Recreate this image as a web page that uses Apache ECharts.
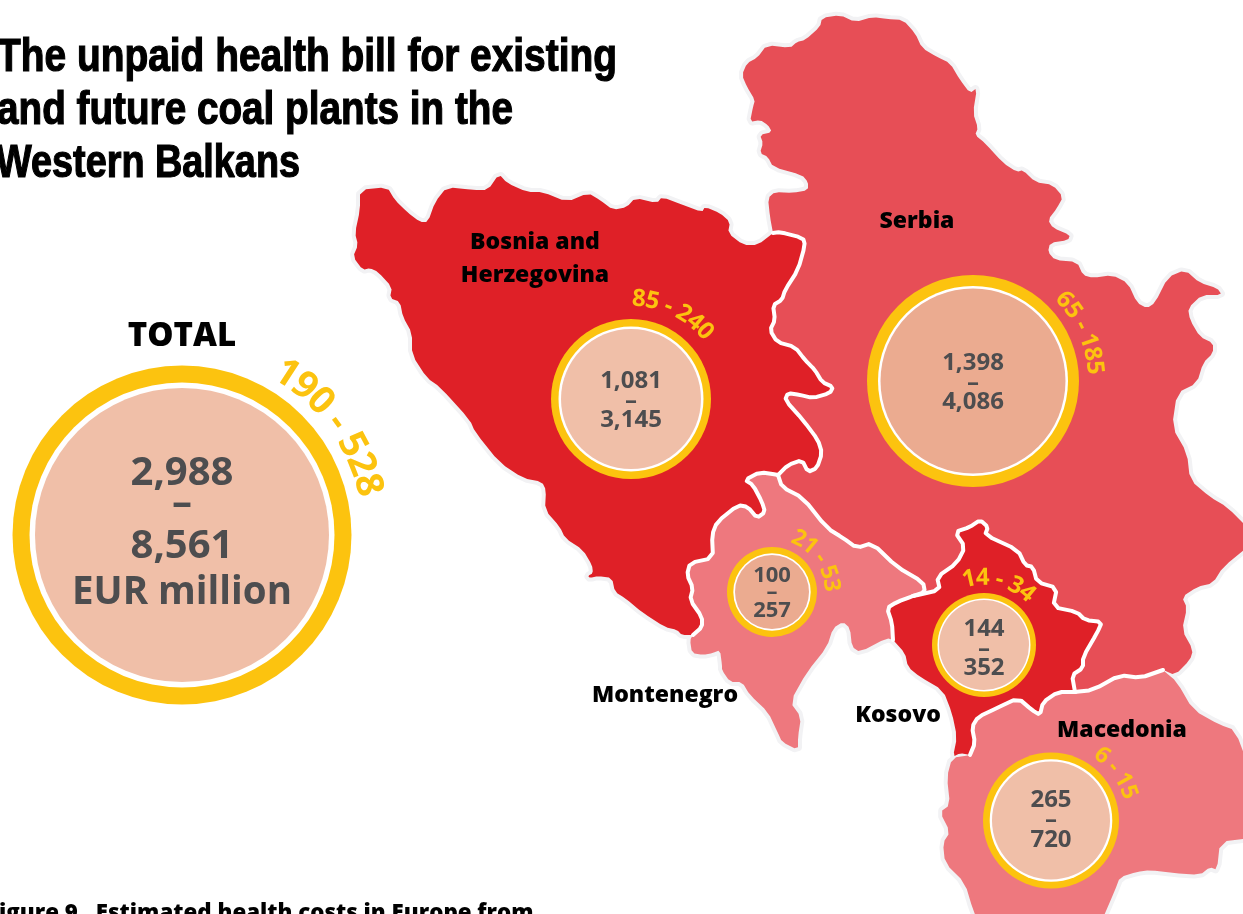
<!DOCTYPE html>
<html>
<head>
<meta charset="utf-8">
<style>
  html, body { margin: 0; padding: 0; background: #fff; overflow: hidden; }
  #chart { width: 1243px; height: 914px; }
</style>
<script src="https://cdn.jsdelivr.net/npm/echarts@6/dist/echarts.min.js"></script>
</head>
<body>
<div id="chart"></div>
<script>
// values
const countries = ['TOTAL', 'Bosnia and Herzegovina', 'Serbia', 'Montenegro', 'Kosovo', 'Macedonia']
const lowCost = [2988, 1081, 1398, 100, 144, 265]
const highCost = [8561, 3145, 4086, 257, 352, 720]
const lowRing = [190, 85, 65, 21, 14, 6]
const highRing = [528, 240, 185, 53, 34, 15]
const titleLines = ['The unpaid health bill for existing', 'and future coal plants in the', 'Western Balkans']

// rounds the corners of a hand traced border, ends stay where they are
function soften (pts) {
  const out = [pts[0]]
  for (let i = 0; i < pts.length - 1; i++) {
    const a = pts[i]
    const b = pts[i + 1]
    out.push([a[0] + (b[0] - a[0]) * 0.22, a[1] + (b[1] - a[1]) * 0.22])
    out.push([a[0] + (b[0] - a[0]) * 0.78, a[1] + (b[1] - a[1]) * 0.78])
  }
  out.push(pts[pts.length - 1])
  return out
}

// outlines, in map units (the map is registered 1:1 with the page)
const bosniaOuter = soften([[773,233],[758,245],[743,245],[728,233],[730,222],[720,213],[705,207],[702,212],[683,205],[662,197],[657,203],[635,198],[627,207],[613,210],[600,200],[588,193],[567,202],[543,192],[527,192],[507,183],[499,174],[488,190],[473,190],[447,187],[435,202],[428,222],[420,222],[407,212],[395,200],[387,187],[360,190],[360,210],[355,233],[358,245],[353,257],[363,270],[370,268],[378,272],[392,287],[390,298],[400,302],[403,317],[412,333],[412,355],[427,378],[440,387],[470,420],[475,432],[500,463],[523,478],[542,482],[546,490],[545,510],[560,527],[565,538],[583,550],[592,565],[593,573],[588,576],[590,578],[598,576],[612,578],[615,592],[625,598],[643,613],[665,627],[677,630],[682,635],[693,635]])
const bosniaSerbia = soften([[773,233],[780,232],[803,238],[805,245],[798,270],[785,290],[782,300],[773,305],[775,320],[770,330],[777,342],[795,347],[805,360],[815,370],[822,382],[833,387],[830,393],[813,398],[800,395],[788,393],[785,400],[803,420],[818,440],[822,453],[817,468],[808,472],[802,460],[788,465],[778,475]])
const bosniaMontenegro = soften([[778,475],[760,472],[745,480],[753,485],[762,502],[765,512],[757,518],[748,507],[738,505],[717,522],[712,535],[713,558],[690,563],[687,575],[693,588],[690,600],[702,617],[702,627],[693,635]])
const montenegroSerbia = soften([[778,475],[782,487],[803,498],[827,528],[843,538],[857,548],[872,543],[897,567],[923,582],[925,592],[913,596]])
const kosovoMontenegro = soften([[913,596],[897,602],[887,608],[892,623],[893,640]])
const kosovoSerbia = soften([[913,596],[940,590],[937,577],[957,563],[965,547],[955,532],[970,527],[980,520],[988,527],[985,535],[1018,550],[1025,565],[1033,567],[1037,582],[1057,588],[1053,607],[1077,612],[1085,620],[1102,622],[1097,633],[1083,657],[1083,668],[1072,675],[1075,692]])
const kosovoMacedonia = soften([[1075,692],[1058,692],[1043,702],[1040,715],[1032,710],[1018,698],[997,708],[978,717],[972,727],[975,743],[970,755]])
const serbiaMacedonia = soften([[1075,692],[1093,690],[1120,675],[1140,678],[1163,670]])
const kosovoCoast = soften([[970,755],[960,753],[953,757],[957,737],[952,713],[943,690],[920,677],[908,667],[905,653],[893,640]])
const montenegroCoast = soften([[893,640],[887,638],[860,652],[852,647],[850,628],[843,622],[833,628],[827,647],[807,672],[790,702],[801,717],[798,737],[798,750],[782,742],[778,733],[768,712],[750,695],[742,682],[730,682],[722,670],[722,665],[720,650],[713,653],[703,655],[692,653],[690,640],[693,635]])
const serbiaOuter = soften([[773,233],[770,217],[768,198],[775,192],[793,193],[808,190],[808,182],[802,175],[773,167],[768,157],[760,153],[763,143],[760,135],[772,132],[768,125],[760,120],[750,122],[753,107],[755,100],[747,87],[742,75],[747,63],[757,58],[767,45],[790,48],[797,42],[805,40],[820,27],[822,18],[840,15],[855,22],[873,17],[887,19],[903,20],[915,33],[922,48],[937,57],[950,63],[960,80],[970,93],[977,88],[973,113],[978,128],[975,135],[985,143],[1003,163],[1017,172],[1023,170],[1035,182],[1053,185],[1063,197],[1057,208],[1048,220],[1053,228],[1070,235],[1068,240],[1050,243],[1048,252],[1055,260],[1077,262],[1083,275],[1093,278],[1112,275],[1128,283],[1137,303],[1147,308],[1155,303],[1168,277],[1185,270],[1200,283],[1217,288],[1222,295],[1202,295],[1188,308],[1190,320],[1200,337],[1213,343],[1213,353],[1203,363],[1197,383],[1177,393],[1172,427],[1187,453],[1190,480],[1210,497],[1227,507],[1250,530],[1250,545],[1223,567],[1213,583],[1197,587],[1182,597],[1187,608],[1182,630],[1193,650],[1190,660],[1175,675],[1163,670]])
const macedoniaOuter = soften([[1163,670],[1177,682],[1193,710],[1220,725],[1235,730],[1250,770],[1250,838],[1220,842],[1217,870],[1210,867],[1200,875],[1173,873],[1150,870],[1137,872],[1120,877],[1115,890],[1100,925],[980,925],[973,910],[965,883],[945,863],[943,843],[950,832],[940,812],[950,805],[947,777],[952,758],[970,755]])

const rev = a => a.slice().reverse()
const outlines = {
  'Bosnia and Herzegovina': [...bosniaOuter, ...rev(bosniaMontenegro), ...rev(bosniaSerbia)],
  'Serbia': [...serbiaOuter, ...rev(serbiaMacedonia), ...rev(kosovoSerbia), ...rev(montenegroSerbia), ...rev(bosniaSerbia)],
  'Montenegro': [...montenegroSerbia, ...kosovoMontenegro, ...montenegroCoast, ...rev(bosniaMontenegro)],
  'Kosovo': [...kosovoSerbia, ...kosovoMacedonia, ...kosovoCoast, ...rev(kosovoMontenegro)],
  'Macedonia': [...serbiaMacedonia, ...macedoniaOuter, ...rev(kosovoMacedonia)]
}
const countryColor = {
  'Bosnia and Herzegovina': '#df2027',
  'Kosovo': '#df2027',
  'Serbia': '#e74e56',
  'Montenegro': '#ee787e',
  'Macedonia': '#ee787e'
}

echarts.registerMap('balkans', {
  type: 'FeatureCollection',
  features: Object.keys(outlines).map(name => ({
    type: 'Feature',
    properties: { name },
    geometry: { type: 'Polygon', coordinates: [outlines[name]] }
  }))
})

// bubble layout, same order as countries
const bubbleCentre = [[182,535],[631,399],[973,381],[772,592],[984,645],[1051,820.5]]
const bubbleRadius = [169.5,80,106,45,52,68]
const whiteRadius = [152.5,72.5,95,38.7,46.5,61.3]
const peachRadius = [147,70,92.5,37,45,59]
const peachColor = ['#f0bfa8','#f0bfa8','#ebab90','#ebab90','#f0bfa8','#f0bfa8']
const costFont = [40,24,24,22,24,24]
const rowOffset = [[-61,-31,12],[-17.5,2,21.5],[-17.5,2,21.5],[-16,1,19],[-16,4,23],[-20,0,19.5]]
const ringFont = [38,24,24,23,24,23]
const ringRadius = [192,100,122,59.5,67,82.5]
const ringMidAngle = [54,26,66,55,13.5,54]

const YELLOW = '#fcc30f'
const GREY = '#4d4d4f'
const FONT = '"Open Sans", sans-serif'

const measure = document.createElement('canvas').getContext('2d')
const fmt = v => v.toLocaleString('en-US')

function ringChars (i, cx, cy) {
  const text = lowRing[i] + ' - ' + highRing[i]
  const font = 'bold ' + ringFont[i] + 'px ' + FONT
  measure.font = font
  const R = ringRadius[i]
  const total = measure.measureText(text).width
  let run = -total / 2
  return text.split('').map(ch => {
    const w = measure.measureText(ch).width
    const a = ringMidAngle[i] * Math.PI / 180 + (run + w / 2) / R
    run += w
    return {
      type: 'text',
      x: cx + R * Math.sin(a),
      y: cy - R * Math.cos(a),
      rotation: -a,
      style: { text: ch, font, fill: YELLOW, align: 'center', verticalAlign: 'middle' }
    }
  })
}

function renderBubble (params, api) {
  const i = params.dataIndex
  const p = api.coord([api.value(0), api.value(1)])
  const disc = (r, fill) => ({ type: 'circle', shape: { cx: p[0], cy: p[1], r }, style: { fill } })
  const row = (text, dy, size) => ({
    type: 'text',
    x: p[0],
    y: p[1] + dy,
    style: { text, font: 'bold ' + size + 'px ' + FONT, fill: GREY, align: 'center', verticalAlign: 'middle' }
  })
  const size = costFont[i]
  const children = [
    disc(bubbleRadius[i], YELLOW),
    disc(whiteRadius[i], '#fff'),
    disc(peachRadius[i], peachColor[i]),
    row(fmt(lowCost[i]), rowOffset[i][0], size),
    row('–', rowOffset[i][1], size),
    row(fmt(highCost[i]), rowOffset[i][2], size)
  ]
  if (i === 0) children.push(row('EUR million', 58, 38.5))
  return { type: 'group', children: children.concat(ringChars(i, p[0], p[1])) }
}

// country names
const nameAnchor = [[182,337],[535,259],[917,221],[665,695],[898,715],[1122,730]]
const nameText = ['TOTAL', 'Bosnia and\nHerzegovina', 'Serbia', 'Montenegro', 'Kosovo', 'Macedonia']

// the title face is a condensed grotesque, so the lines are squeezed to their width
const TITLE_FONT = 'bold 46px "Liberation Sans"'
const titleWidth = [620, 516, 304]
const titleLeft = [-3, -3, -4]
const titleBaseline = [81, 134, 187]
measure.font = TITLE_FONT

const geoBase = {
  map: 'balkans',
  projection: { project: p => p, unproject: p => p },
  boundingCoords: [[0, 0], [1243, 914]],
  left: 0,
  top: 0,
  width: 1243,
  height: 914,
  aspectScale: 1,
  roam: false,
  silent: true,
  label: { show: false },
  emphasis: { disabled: true }
}

const chart = echarts.init(document.getElementById('chart'), null, { renderer: 'canvas' })
chart.setOption({
  backgroundColor: '#fff',
  animation: false,
  title: {
    text: 'Figure 9.  Estimated health costs in Europe from',
    left: -13,
    top: 903,
    padding: 0,
    textStyle: { fontFamily: FONT, fontWeight: 800, fontSize: 22.3, color: '#000' }
  },
  graphic: {
    elements: titleLines.map((text, i) => ({
      type: 'text',
      x: titleLeft[i],
      y: titleBaseline[i],
      scaleX: titleWidth[i] / measure.measureText(text).width,
      style: { text, font: TITLE_FONT, fill: '#000', stroke: '#000', lineWidth: 1.2, verticalAlign: 'bottom' },
      silent: true
    }))
  },
  geo: [
    // pale halo sits under the fills
    Object.assign({}, geoBase, {
      z: 0,
      itemStyle: { areaColor: '#f2f2f4', borderColor: '#f2f2f4', borderWidth: 8, borderJoin: 'round' }
    }),
    Object.assign({}, geoBase, {
      z: 1,
      itemStyle: { areaColor: '#e74e56', borderWidth: 0 },
      regions: Object.keys(countryColor).map(name => ({ name, itemStyle: { areaColor: countryColor[name], borderWidth: 0 } }))
    })
  ],
  series: [
    {
      type: 'lines',
      coordinateSystem: 'geo',
      geoIndex: 1,
      polyline: true,
      silent: true,
      z: 2,
      lineStyle: { color: '#fff', width: 4, opacity: 1, join: 'round', cap: 'round' },
      data: [bosniaSerbia, bosniaMontenegro, montenegroSerbia, kosovoMontenegro, kosovoSerbia, kosovoMacedonia, serbiaMacedonia].map(coords => ({ coords }))
    },
    {
      type: 'custom',
      coordinateSystem: 'geo',
      geoIndex: 1,
      silent: true,
      z: 3,
      renderItem: renderBubble,
      data: bubbleCentre.map((c, i) => ({ name: countries[i], value: c }))
    },
    {
      type: 'scatter',
      coordinateSystem: 'geo',
      geoIndex: 1,
      silent: true,
      z: 4,
      symbolSize: 0,
      itemStyle: { opacity: 1 },
      label: {
        show: true,
        position: 'inside',
        color: '#000',
        fontFamily: FONT,
        fontWeight: 800,
        fontSize: 23,
        lineHeight: 33,
        align: 'center',
        verticalAlign: 'middle',
        formatter: p => nameText[p.dataIndex]
      },
      data: nameAnchor.map((c, i) => ({
        value: c,
        label: i === 0 ? { fontSize: 33 } : undefined
      }))
    }
  ]
})
</script>
</body>
</html>
